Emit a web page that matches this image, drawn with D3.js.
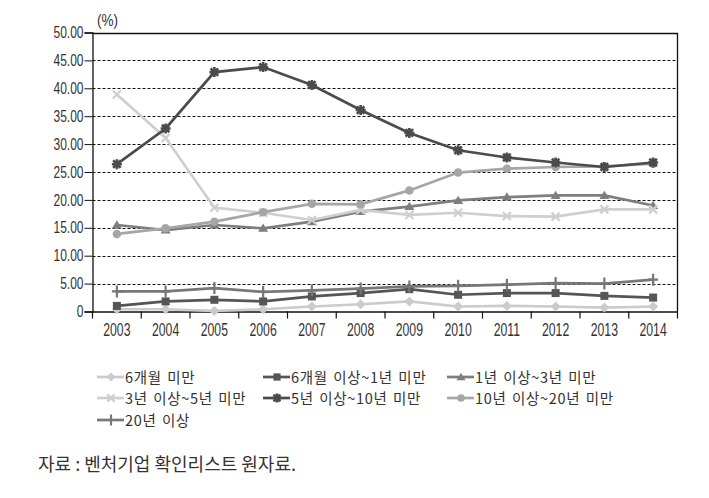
<!DOCTYPE html>
<html>
<head>
<meta charset="utf-8">
<script src="https://cdn.jsdelivr.net/npm/d3@7/dist/d3.min.js"></script>
<style>
  body { margin: 0; background: #fff; }
  svg { display: block; }
  .tick-num { font-family: "Liberation Sans", Arial, sans-serif; fill: #333; }
  .kr { font-family: "Noto Sans CJK KR", sans-serif; fill: #333; }
</style>
</head>
<body>
<script>
// data
const years = ['2003','2004','2005','2006','2007','2008','2009','2010','2011','2012','2013','2014']
const yTicks = [0, 5, 10, 15, 20, 25, 30, 35, 40, 45, 50]

const under6m    = [0.4, 0.4, 0.1, 0.4, 0.9, 1.3, 1.8, 0.9, 1.0, 0.9, 0.7, 0.9]
const m6to1y     = [1.0, 1.8, 2.1, 1.8, 2.7, 3.3, 4.0, 3.0, 3.3, 3.3, 2.8, 2.5]
const y1to3      = [15.5, 14.6, 15.5, 14.9, 16.1, 17.9, 18.8, 19.9, 20.5, 20.8, 20.8, 19.0]
const y3to5      = [38.9, 31.1, 18.6, 17.7, 16.4, 18.2, 17.3, 17.7, 17.1, 17.0, 18.3, 18.3]
const y5to10     = [26.4, 32.8, 42.9, 43.8, 40.6, 36.1, 32.0, 28.9, 27.6, 26.7, 25.9, 26.7]
const y10to20    = [13.9, 14.9, 16.1, 17.8, 19.3, 19.2, 21.7, 24.9, 25.6, 25.9, 26.0, 26.5]
const over20     = [3.6, 3.6, 4.2, 3.5, 3.8, 4.1, 4.5, 4.6, 4.8, 5.1, 5.0, 5.7]

const series = [
  { name: '6개월 미만', values: under6m, color: '#cbcbcb', marker: 'diamond' },
  { name: '6개월 이상~1년 미만', values: m6to1y, color: '#555555', marker: 'square' },
  { name: '1년 이상~3년 미만', values: y1to3, color: '#7e7e7e', marker: 'triangle' },
  { name: '3년 이상~5년 미만', values: y3to5, color: '#cfcfcf', marker: 'x' },
  { name: '5년 이상~10년 미만', values: y5to10, color: '#4b4b4b', marker: 'star' },
  { name: '10년 이상~20년 미만', values: y10to20, color: '#a6a6a6', marker: 'circle' },
  { name: '20년 이상', values: over20, color: '#777777', marker: 'plus' }
]
// drawing order: the dark star line lies over the circles
const drawOrder = [0, 1, 2, 3, 5, 6, 4]

const W = 709, H = 498
const pLeft = 92.5, pRight = 677.5, pTop = 32.5, pBottom = 311.5

const svg = d3.select('body').append('svg').attr('width', W).attr('height', H)

const x = d3.scaleBand().domain(years).range([pLeft, pRight]).padding(0)
const y = d3.scaleLinear().domain([0, 50]).range([pBottom, pTop])

// gridlines
svg.append('g').selectAll('line').data(yTicks.filter(d => d > 0 && d < 50)).enter()
  .append('line')
  .attr('x1', pLeft).attr('x2', pRight)
  .attr('y1', d => Math.round(y(d)) + 0.5).attr('y2', d => Math.round(y(d)) + 0.5)
  .attr('stroke', '#111').attr('stroke-width', 1).attr('stroke-dasharray', '3,2')

// frame: top and right border
svg.append('path')
  .attr('d', `M${pLeft},${Math.round(y(50)) + 0.5}H${pRight}V${pBottom}`)
  .attr('fill', 'none').attr('stroke', '#111').attr('stroke-width', 1.3)

// y axis (condensed digits)
const ySx = 0.75
const yAxis = svg.append('g').attr('transform', `translate(${pLeft},0)`)
  .call(d3.axisLeft(y).tickValues(yTicks).tickSize(8).tickPadding(1)
    .tickFormat(d => d === 0 ? '0' : d.toFixed(2)))
yAxis.select('.domain').attr('stroke', '#111').attr('stroke-width', 1.3)
yAxis.selectAll('.tick line').attr('stroke', '#111')
yAxis.selectAll('text').attr('class', 'tick-num').style('font-size', '16px').attr('fill', '#333')
  .attr('x', -9 / ySx).attr('transform', `scale(${ySx},1)`)

// x axis with ticks between categories
const xSx = 0.68
const xAxis = svg.append('g').attr('transform', `translate(0,${pBottom})`)
  .call(d3.axisBottom(x).tickSize(0).tickPadding(12))
xAxis.select('.domain').attr('stroke', '#111').attr('stroke-width', 1.3)
xAxis.selectAll('text').attr('class', 'tick-num').style('font-size', '18px').attr('fill', '#333')
  .attr('transform', `scale(${xSx},1)`)
svg.append('g').selectAll('line').data(years.concat(['end'])).enter()
  .append('line')
  .attr('x1', (d, i) => pLeft + i * x.step()).attr('x2', (d, i) => pLeft + i * x.step())
  .attr('y1', pBottom).attr('y2', pBottom + 7)
  .attr('stroke', '#111').attr('stroke-width', 1.2)

svg.append('text').attr('class', 'tick-num')
  .attr('transform', 'translate(97,26) scale(0.85,1)')
  .style('font-size', '16px').text('(%)')

// markers
function drawMarker(g, type, color, s) {
  if (type === 'diamond') {
    g.append('path').attr('d', `M0,${-s}L${s},0L0,${s}L${-s},0Z`).attr('fill', color)
  } else if (type === 'square') {
    g.append('rect').attr('x', -s * 0.8).attr('y', -s * 0.8).attr('width', s * 1.6).attr('height', s * 1.6).attr('fill', color)
  } else if (type === 'triangle') {
    g.append('path').attr('d', `M0,${-s * 0.95}L${s},${s * 0.7}L${-s},${s * 0.7}Z`).attr('fill', color)
  } else if (type === 'circle') {
    g.append('circle').attr('r', s * 0.85).attr('fill', color)
  } else if (type === 'x') {
    const a = s * 0.8
    g.append('path').attr('d', `M${-a},${-a}L${a},${a}M${-a},${a}L${a},${-a}`)
      .attr('stroke', color).attr('stroke-width', 2.2).attr('fill', 'none')
  } else if (type === 'star') {
    const a = s * 0.75
    g.append('path').attr('d', `M${-a},${-a}L${a},${a}M${-a},${a}L${a},${-a}M0,${-s}V${s}M${-s},0H${s}`)
      .attr('stroke', color).attr('stroke-width', 2.6).attr('fill', 'none')
  } else if (type === 'plus') {
    g.append('path').attr('d', `M0,${-s * 1.2}V${s * 1.2}M${-s},0H${s}`)
      .attr('stroke', color).attr('stroke-width', 2.2).attr('fill', 'none')
  }
}

const line = d3.line().x((d, i) => x(years[i]) + x.bandwidth() / 2).y(d => y(d))

drawOrder.forEach(k => {
  const s = series[k]
  const g = svg.append('g')
  g.append('path').attr('d', line(s.values)).attr('fill', 'none')
    .attr('stroke', s.color).attr('stroke-width', 2.7)
  s.values.forEach((v, i) => {
    const m = g.append('g').attr('transform', `translate(${x(years[i]) + x.bandwidth() / 2},${y(v)})`)
    drawMarker(m, s.marker, s.color, 5)
  })
})

// legend
const colX = [97, 263, 447]
const rowY = [377, 398, 420]
series.forEach((s, i) => {
  const lx = colX[i % 3], ly = rowY[Math.floor(i / 3)]
  const g = svg.append('g').attr('transform', `translate(${lx},${ly})`)
  g.append('line').attr('x1', 0).attr('x2', 27).attr('y1', 0).attr('y2', 0)
    .attr('stroke', s.color).attr('stroke-width', 2.7)
  const m = g.append('g').attr('transform', 'translate(14,0)')
  drawMarker(m, s.marker, s.color, 4.5)
  g.append('text').attr('class', 'kr').attr('x', 28).attr('y', 5.5)
    .style('font-size', '14.5px').style('letter-spacing', '0.7px').style('word-spacing', '1.5px')
    .text(s.name)
})

// source
svg.append('text').attr('class', 'kr').attr('x', 38).attr('y', 471)
  .style('font-size', '18px').text('자료 : 벤처기업 확인리스트 원자료.')
</script>
</body>
</html>
